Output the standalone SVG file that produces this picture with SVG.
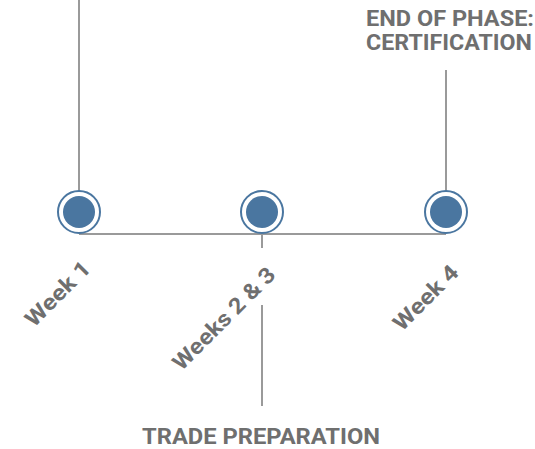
<svg xmlns="http://www.w3.org/2000/svg" width="535" height="449" viewBox="0 0 535 449">
<style>
.ln{stroke:#9a9a9a;stroke-width:2;fill:none}
.ring{fill:#fff;stroke:#4a76a0;stroke-width:2}
.dot{fill:#4a76a0}
.t{font-family:Roboto,"Liberation Sans",sans-serif;font-weight:bold;fill:#6f6f6f}
.lab{font-size:22px}
.head{font-size:22px}
</style>
<rect width="535" height="449" fill="#fff"/>
<g id="connectors">
<line class="ln" x1="79" y1="0" x2="79" y2="192"/>
<line class="ln" x1="79" y1="234" x2="446" y2="234"/>
<line class="ln" x1="262" y1="234" x2="262" y2="248"/>
<line class="ln" x1="262" y1="305" x2="262" y2="406"/>
<line class="ln" x1="446" y1="70" x2="446" y2="192"/>
</g>
<g id="week1">
<circle class="ring" cx="79" cy="212" r="21"/>
<circle class="dot" cx="79" cy="212" r="16"/>
<text class="t lab" transform="translate(92,270) rotate(-45)" text-anchor="end" textLength="82" lengthAdjust="spacingAndGlyphs">Week 1</text>
</g>
<g id="weeks23">
<circle class="ring" cx="262" cy="212" r="21"/>
<circle class="dot" cx="262" cy="212" r="16"/>
<text class="t lab" transform="translate(277,276) rotate(-45)" text-anchor="end" textLength="135" lengthAdjust="spacingAndGlyphs">Weeks 2 &amp; 3</text>
</g>
<g id="week4">
<circle class="ring" cx="446" cy="212" r="21"/>
<circle class="dot" cx="446" cy="212" r="16"/>
<text class="t lab" transform="translate(460,274) rotate(-45)" text-anchor="end" textLength="82" lengthAdjust="spacingAndGlyphs">Week 4</text>
</g>
<g id="end-of-phase">
<text class="t head" x="366" y="26" textLength="168" lengthAdjust="spacingAndGlyphs">END OF PHASE:</text>
<text class="t head" x="366" y="50" textLength="166" lengthAdjust="spacingAndGlyphs">CERTIFICATION</text>
</g>
<g id="trade-preparation">
<text class="t head" x="142" y="444" textLength="238" lengthAdjust="spacingAndGlyphs">TRADE PREPARATION</text>
</g>
</svg>
